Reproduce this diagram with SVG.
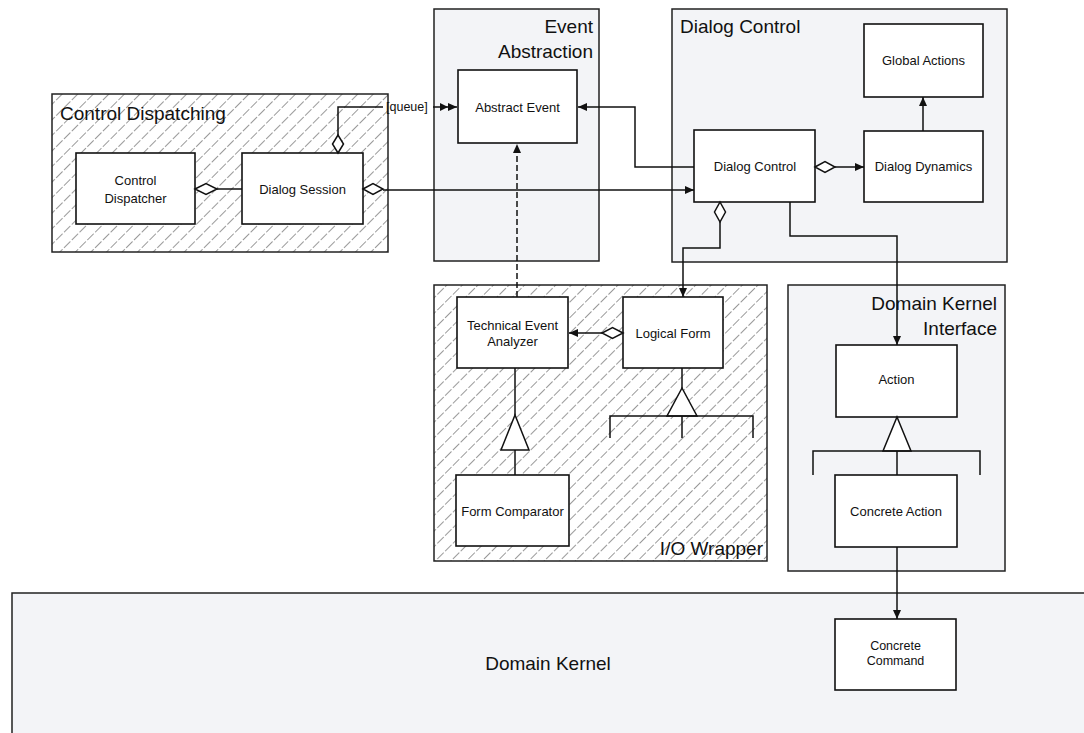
<svg xmlns="http://www.w3.org/2000/svg" width="1084" height="733" viewBox="0 0 1084 733">
<defs>
<pattern id="hatch" patternUnits="userSpaceOnUse" width="11" height="11" patternTransform="rotate(45)">
<rect width="11" height="11" fill="#ffffff"/>
<line x1="0" y1="0" x2="0" y2="11" stroke="#333" stroke-width="1" stroke-dasharray="9,2"/>
</pattern>
<marker id="arr" markerUnits="userSpaceOnUse" markerWidth="10" markerHeight="8" refX="9" refY="4" orient="auto">
<path d="M0,0 L9,4 L0,8 Z" fill="#111"/>
</marker>
<style>
.cont-g{fill:#f3f4f7;stroke:#222;stroke-width:1.5}
.cont-h{fill:url(#hatch);stroke:#222;stroke-width:1.5}
.node{fill:#ffffff;stroke:#111;stroke-width:1.6}
.title{font-family:"Liberation Sans",Arial,sans-serif;font-size:19px;fill:#111}
.lbl{font-family:"Liberation Sans",Arial,sans-serif;font-size:13px;fill:#111;text-anchor:middle;dominant-baseline:central}
.ln{fill:none;stroke:#111;stroke-width:1.5}
.dash{fill:none;stroke:#111;stroke-width:1.5;stroke-dasharray:6,3}
.dia{fill:#ffffff;stroke:#111;stroke-width:1.5}
.tri{fill:#ffffff;stroke:#111;stroke-width:1.5}
</style>
</defs>
<rect width="1084" height="733" fill="#ffffff"/>

<!-- containers -->
<g id="domain-kernel">
<rect class="cont-g" x="12" y="593" width="1090" height="160"/>
<text class="title" x="548" y="663" text-anchor="middle" dominant-baseline="central">Domain Kernel</text>
</g>
<g id="control-dispatching">
<rect class="cont-h" x="52" y="94" width="336" height="158"/>
<text class="title" x="60" y="120">Control Dispatching</text>
</g>
<g id="event-abstraction">
<rect class="cont-g" x="434" y="9" width="165" height="252"/>
<text class="title" x="593" y="33" text-anchor="end">Event</text>
<text class="title" x="593" y="58" text-anchor="end">Abstraction</text>
</g>
<g id="dialog-control-pkg">
<rect class="cont-g" x="672" y="9" width="335" height="253"/>
<text class="title" x="680" y="33">Dialog Control</text>
</g>
<g id="io-wrapper">
<rect class="cont-h" x="434" y="285" width="333" height="276"/>
<text class="title" x="763" y="555" text-anchor="end">I/O Wrapper</text>
</g>
<g id="domain-kernel-interface">
<rect class="cont-g" x="788" y="285" width="217" height="286"/>
<text class="title" x="997" y="310" text-anchor="end">Domain Kernel</text>
<text class="title" x="997" y="335" text-anchor="end">Interface</text>
</g>

<!-- nodes -->
<g id="control-dispatcher">
<rect class="node" x="76" y="153" width="119" height="71"/>
<text class="lbl" x="135.5" y="180">Control</text>
<text class="lbl" x="135.5" y="198">Dispatcher</text>
</g>
<g id="dialog-session">
<rect class="node" x="242" y="153" width="121" height="71"/>
<text class="lbl" x="302.5" y="189">Dialog Session</text>
</g>
<g id="abstract-event">
<rect class="node" x="458" y="70" width="119" height="73"/>
<text class="lbl" x="517.5" y="107">Abstract Event</text>
</g>
<g id="dialog-control">
<rect class="node" x="694" y="130" width="121" height="72"/>
<text class="lbl" x="755" y="166">Dialog Control</text>
</g>
<g id="global-actions">
<rect class="node" x="864" y="24" width="119" height="73"/>
<text class="lbl" x="923.5" y="60">Global Actions</text>
</g>
<g id="dialog-dynamics">
<rect class="node" x="864" y="131" width="119" height="71"/>
<text class="lbl" x="923.5" y="166">Dialog Dynamics</text>
</g>
<g id="technical-event-analyzer">
<rect class="node" x="457" y="297" width="111" height="71"/>
<text class="lbl" x="512.5" y="325">Technical Event</text>
<text class="lbl" x="512.5" y="341">Analyzer</text>
</g>
<g id="logical-form">
<rect class="node" x="623" y="297" width="100" height="71"/>
<text class="lbl" x="673" y="333">Logical Form</text>
</g>
<g id="form-comparator">
<rect class="node" x="456" y="475" width="113" height="71"/>
<text class="lbl" x="512.5" y="511">Form Comparator</text>
</g>
<g id="action">
<rect class="node" x="836" y="345" width="121" height="72"/>
<text class="lbl" x="896.5" y="379">Action</text>
</g>
<g id="concrete-action">
<rect class="node" x="835" y="475" width="122" height="72"/>
<text class="lbl" x="896" y="511">Concrete Action</text>
</g>
<g id="concrete-command">
<rect class="node" x="835" y="619" width="121" height="71"/>
<text class="lbl" x="895.5" y="646" style="font-size:12.5px">Concrete</text>
<text class="lbl" x="895.5" y="661" style="font-size:12.5px">Command</text>
</g>

<!-- connectors -->
<g id="connectors">
<line class="ln" x1="217" y1="189" x2="242" y2="189"/>
<polygon class="dia" points="195,189 206,183.5 217,189 206,194.5"/>
<polyline class="ln" points="338,135 338,107 383,107"/>
<polygon class="dia" points="338,153 343.5,144 338,135 332.5,144"/>
<text x="386" y="107" style="font-family:'Liberation Sans',Arial,sans-serif;font-size:12.5px;fill:#111" dominant-baseline="central">[queue]</text>
<line class="ln" x1="433" y1="107" x2="457" y2="107" marker-end="url(#arr)"/>
<path d="M440,103 L448,107 L440,111 Z" fill="#111"/>
<line class="ln" x1="383" y1="190" x2="694" y2="190" marker-end="url(#arr)"/>
<polygon class="dia" points="363,189 373,183.5 383,189 373,194.5"/>
<polyline class="ln" points="694,167 635,167 635,107 578,107" marker-end="url(#arr)"/>
<line class="ln" x1="835" y1="167" x2="864" y2="167" marker-end="url(#arr)"/>
<polygon class="dia" points="815,167 825,161.5 835,167 825,172.5"/>
<line class="ln" x1="923" y1="131" x2="923" y2="97" marker-end="url(#arr)"/>
<polyline class="ln" points="720,222 720,248 683,248 683,297" marker-end="url(#arr)"/>
<polygon class="dia" points="720,202 725.5,212 720,222 714.5,212"/>
<polyline class="ln" points="790,202 790,236 897,236 897,345" marker-end="url(#arr)"/>
<line class="dash" x1="517" y1="297" x2="517" y2="144" marker-end="url(#arr)"/>
<line class="ln" x1="602" y1="333" x2="569" y2="333" marker-end="url(#arr)"/>
<polygon class="dia" points="623,333 612.5,327.5 602,333 612.5,338.5"/>
<line class="ln" x1="515" y1="368" x2="515" y2="415"/>
<line class="ln" x1="515" y1="450" x2="515" y2="475"/>
<polygon class="tri" points="515,415 529,450 501,450"/>
<line class="ln" x1="682" y1="368" x2="682" y2="388"/>
<polygon class="tri" points="682,388 697,416 667,416"/>
<polyline class="ln" points="610,438 610,416 753,416 753,438"/>
<line class="ln" x1="682" y1="416" x2="682" y2="438"/>
<polygon class="tri" points="897,417 911,451 883,451"/>
<polyline class="ln" points="813,475 813,451 980,451 980,475"/>
<line class="ln" x1="897" y1="451" x2="897" y2="475"/>
<line class="ln" x1="897" y1="547" x2="897" y2="619" marker-end="url(#arr)"/>
</g>
</svg>
